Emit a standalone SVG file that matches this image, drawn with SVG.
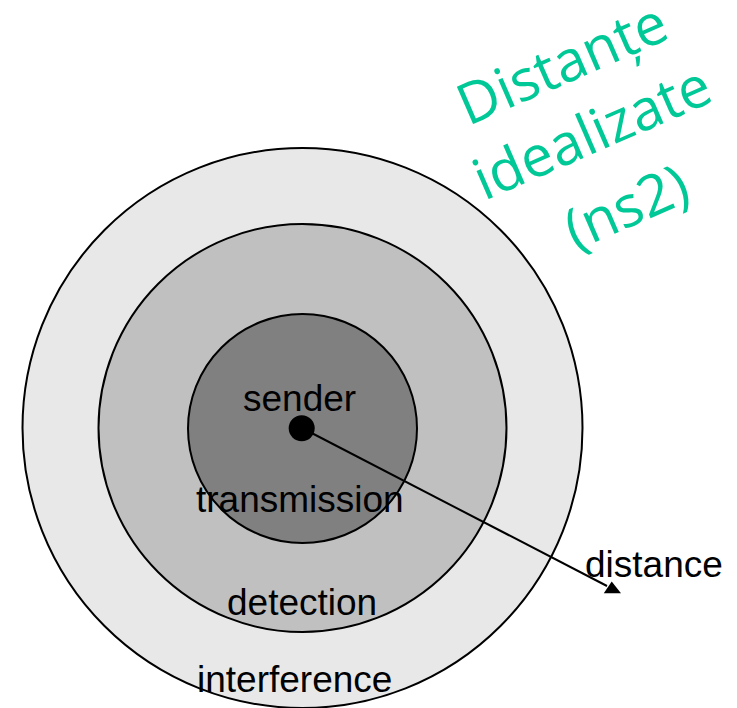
<svg xmlns="http://www.w3.org/2000/svg" width="737" height="708" viewBox="0 0 737 708">
<style>
.ring{stroke:#000;stroke-width:2}
.lbl{font-family:"Liberation Sans",Arial,sans-serif;font-size:37px;fill:#000}
.title{font-family:"Open Sans","Noto Sans",sans-serif;font-size:57px;fill:#00c896;text-anchor:middle}
</style>
<rect width="737" height="708" fill="#fff"/>
<g id="interference">
<circle class="ring" cx="302.5" cy="428" r="280" fill="#e8e8e8"/>
</g>
<g id="detection">
<circle class="ring" cx="302.5" cy="428" r="204" fill="#c0c0c0"/>
</g>
<g id="transmission">
<circle class="ring" cx="302.5" cy="428.5" r="114.5" fill="#808080"/>
</g>
<g id="sender">
<circle cx="301.7" cy="428.3" r="13" fill="#000"/>
</g>
<g id="connectors">
<line x1="302" y1="428" x2="607" y2="586" stroke="#000" stroke-width="2"/>
<polygon points="611.7,581.5 603.8,593.3 621,593.3" fill="#000"/>
</g>
<g id="labels">
<text class="lbl" x="243" y="411">sender</text>
<text class="lbl" x="196" y="512">transmission</text>
<text class="lbl" x="227" y="615">detection</text>
<text class="lbl" x="197" y="692">interference</text>
<text class="lbl" x="585" y="577">distance</text>
</g>
<g id="title" transform="translate(570,82) rotate(-23.5)">
<text class="title" x="0" y="0">Distanțe</text>
<text class="title" x="0" y="75">idealizate</text>
<text class="title" x="2" y="157">(ns2)</text>
</g>
</svg>
